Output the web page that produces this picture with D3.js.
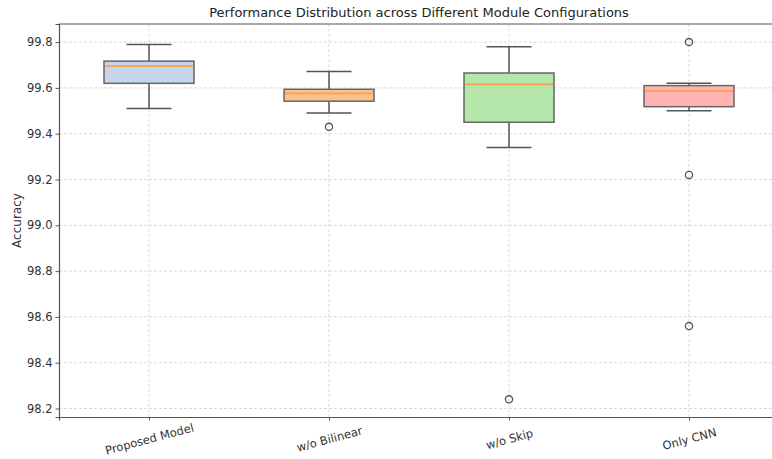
<!DOCTYPE html>
<html><head><meta charset="utf-8">
<script src="https://cdn.jsdelivr.net/npm/d3@7"></script>
<style>body{margin:0;background:#fff;}svg{display:block;font-family:"DejaVu Sans",sans-serif;}</style>
</head><body><svg id="c" width="772" height="459"></svg>
<script>
const categories = ["Proposed Model", "w/o Bilinear", "w/o Skip", "Only CNN"];
const whiskerLow  = [99.51, 99.49, 99.34, 99.50];
const q1          = [99.62, 99.542, 99.45, 99.518];
const median      = [99.695, 99.576, 99.615, 99.587];
const q3          = [99.717, 99.594, 99.665, 99.61];
const whiskerHigh = [99.79, 99.672, 99.78, 99.62];
const outliers    = [[], [99.43], [98.24], [99.80, 99.22, 98.56]];
const yTicks = [98.2, 98.4, 98.6, 98.8, 99.0, 99.2, 99.4, 99.6, 99.8];
const fills = ["#c5d6ec", "#fdc18c", "#b4e5a9", "#ffb3b3"];

const svg = d3.select("#c");
const L = 59, T = 24, B = 417, R = 779;
const x = d3.scaleLinear().domain([0.5, 4.5]).range([L, R]);
const y = d3.scaleLinear().domain([98.163, 99.879]).range([B, T]);
const bw = 0.5, capw = 0.25;

// grid
const g = svg.append("g");
g.selectAll("line.gy").data(yTicks).join("line")
  .attr("x1", L).attr("x2", R).attr("y1", d => y(d)).attr("y2", d => y(d))
  .attr("stroke", "#d0d0d0").attr("stroke-width", 0.8).attr("stroke-dasharray", "3,2");
g.selectAll("line.gx").data(categories).join("line")
  .attr("x1", (d,i) => x(i+1)).attr("x2", (d,i) => x(i+1)).attr("y1", T).attr("y2", B)
  .attr("stroke", "#d0d0d0").attr("stroke-width", 0.8).attr("stroke-dasharray", "3,2");

// boxes
const bx = svg.append("g");
categories.forEach((c, i) => {
  const cx = x(i+1);
  const stroke = "#555";
  bx.append("line").attr("x1", cx).attr("x2", cx).attr("y1", y(q3[i])).attr("y2", y(whiskerHigh[i])).attr("stroke", stroke).attr("stroke-width", 1.5);
  bx.append("line").attr("x1", cx).attr("x2", cx).attr("y1", y(q1[i])).attr("y2", y(whiskerLow[i])).attr("stroke", stroke).attr("stroke-width", 1.5);
  [whiskerHigh[i], whiskerLow[i]].forEach(v => {
    bx.append("line").attr("x1", x(i+1-capw/2)).attr("x2", x(i+1+capw/2)).attr("y1", y(v)).attr("y2", y(v)).attr("stroke", stroke).attr("stroke-width", 1.5);
  });
  bx.append("rect").attr("x", x(i+1-bw/2)).attr("width", x(i+1+bw/2)-x(i+1-bw/2))
    .attr("y", y(q3[i])).attr("height", y(q1[i]) - y(q3[i]))
    .attr("fill", fills[i]).attr("stroke", "#666").attr("stroke-width", 1.5);
  bx.append("line").attr("x1", x(i+1-bw/2)+1).attr("x2", x(i+1+bw/2)-1).attr("y1", y(median[i])).attr("y2", y(median[i]))
    .attr("stroke", "#f5a055").attr("stroke-width", 1.8);
  outliers[i].forEach(v => {
    bx.append("circle").attr("cx", cx).attr("cy", y(v)).attr("r", 3.6).attr("fill", "none").attr("stroke", "#555").attr("stroke-width", 1.3);
  });
});

// axes
const ya = svg.append("g").attr("transform", `translate(${L},0)`)
  .call(d3.axisLeft(y).tickValues(yTicks).tickFormat(d3.format(".1f")).tickSize(3.5).tickPadding(3));
const xa = svg.append("g").attr("transform", `translate(0,${B})`)
  .call(d3.axisBottom(x).tickValues([1,2,3,4]).tickFormat((d) => categories[d-1]).tickSize(3.5).tickPadding(3));
[ya, xa].forEach(a => {
  a.select(".domain").attr("stroke", "#555").attr("stroke-width", 1.2);
  a.selectAll(".tick line").attr("stroke", "#555");
  a.selectAll("text").attr("fill", "#333").attr("font-size", 11.5).attr("font-family", "DejaVu Sans, sans-serif");
});
xa.selectAll("text").attr("text-anchor", "middle").attr("dy", "0.35em")
  .attr("transform", "translate(0,22) rotate(-15)").attr("y", 0);
svg.append("line").attr("x1", L).attr("x2", R).attr("y1", T).attr("y2", T).attr("stroke", "#555").attr("stroke-width", 1.2);

svg.append("text").attr("x", 419).attr("y", 17).attr("text-anchor", "middle")
  .attr("font-size", 13).attr("fill", "#222").text("Performance Distribution across Different Module Configurations");
svg.append("text").attr("transform", `translate(21,${(T+B)/2}) rotate(-90)`).attr("text-anchor", "middle")
  .attr("font-size", 12).attr("fill", "#333").text("Accuracy");
</script></body></html>
